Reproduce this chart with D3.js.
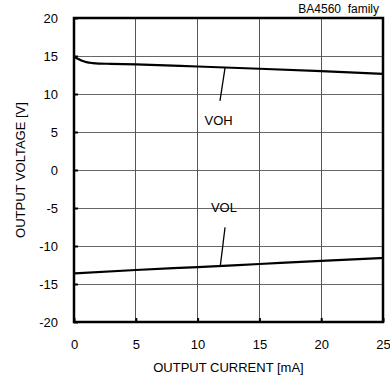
<!DOCTYPE html>
<html><head><meta charset="utf-8">
<script src="https://cdn.jsdelivr.net/npm/d3@7"></script>
<style>body{margin:0;background:#fff}svg{display:block;font-family:"Liberation Sans",Arial,sans-serif}</style>
</head><body><svg id="c" width="390" height="384"></svg>
<script>
const xTicks = [0, 5, 10, 15, 20, 25];
const yTicks = [-20, -15, -10, -5, 0, 5, 10, 15, 20];
const vohCurrent = [0, 0.3, 0.6, 1, 1.5, 2, 3, 5, 10, 15, 20, 25];
const vohVoltage = [14.9, 14.65, 14.4, 14.2, 14.07, 14.0, 13.97, 13.9, 13.62, 13.32, 13.0, 12.65];
const volCurrent = [0, 5, 10, 15, 20, 25];
const volVoltage = [-13.6, -13.16, -12.77, -12.37, -11.97, -11.58];
const labels = [
  {text: "VOH", x: 11.7, y: 5.9, lx1: 12.22, ly1: 13.45, lx2: 11.81, ly2: 9.1},
  {text: "VOL", x: 12.13, y: -5.5, lx1: 12.22, ly1: -7.55, lx2: 11.84, ly2: -12.6}
];
const svg = d3.select("#c");
const L = 74, R = 383, T = 18, B = 322;
const x = d3.scaleLinear().domain([0, 25]).range([L, R]);
const y = d3.scaleLinear().domain([-20, 20]).range([B, T]);
// grid
svg.append("g").selectAll("line").data(yTicks).join("line")
  .attr("x1", L).attr("x2", R).attr("y1", d => y(d)).attr("y2", d => y(d))
  .attr("stroke", "#666").attr("stroke-width", 1).attr("shape-rendering", "crispEdges");
svg.append("g").selectAll("line").data(xTicks).join("line")
  .attr("y1", T).attr("y2", B).attr("x1", d => x(d)).attr("x2", d => x(d))
  .attr("stroke", "#555").attr("stroke-width", 1).attr("shape-rendering", "crispEdges");
// axes with inward ticks
const fmt = d => String(d);
const ax = svg.append("g").attr("transform", `translate(0,${B})`)
  .call(d3.axisBottom(x).tickValues(xTicks).tickFormat(fmt).tickSize(-4).tickPadding(18));
const ay = svg.append("g").attr("transform", `translate(${L},0)`)
  .call(d3.axisLeft(y).tickValues(yTicks).tickFormat(fmt).tickSize(-4).tickPadding(16));
[ax, ay].forEach(g => {
  g.select(".domain").remove();
  g.selectAll(".tick line").attr("stroke", "#000").attr("stroke-width", 2);
  g.selectAll("text").attr("font-size", 13).attr("fill", "#000").attr("font-family", "Liberation Sans, Arial, sans-serif");
});
// border
svg.append("rect").attr("x", L).attr("y", T).attr("width", R - L).attr("height", B - T)
  .attr("fill", "none").attr("stroke", "#000").attr("stroke-width", 2.5);
// curves
const line = d3.line().x(d => x(d[0])).y(d => y(d[1])).curve(d3.curveMonotoneX);
svg.append("path").datum(vohCurrent.map((c, i) => [c, vohVoltage[i]])).attr("d", line)
  .attr("fill", "none").attr("stroke", "#000").attr("stroke-width", 2.2);
svg.append("path").datum(volCurrent.map((c, i) => [c, volVoltage[i]])).attr("d", line)
  .attr("fill", "none").attr("stroke", "#000").attr("stroke-width", 2.2);
// labels
labels.forEach(l => {
  svg.append("line").attr("x1", x(l.lx1)).attr("y1", y(l.ly1)).attr("x2", x(l.lx2)).attr("y2", y(l.ly2))
    .attr("stroke", "#000").attr("stroke-width", 1.3);
  svg.append("text").attr("x", x(l.x)).attr("y", y(l.y)).attr("text-anchor", "middle")
    .attr("font-size", 13).text(l.text);
});
// titles
svg.append("text").attr("x", (L + R) / 2).attr("y", 372).attr("text-anchor", "middle")
  .attr("font-size", 13).text("OUTPUT CURRENT [mA]");
svg.append("text").attr("transform", `translate(25,${(T + B) / 2}) rotate(-90)`).attr("text-anchor", "middle")
  .attr("font-size", 13).text("OUTPUT VOLTAGE [V]");
svg.append("text").attr("x", 379).attr("y", 13).attr("text-anchor", "end")
  .attr("font-size", 12).attr("xml:space", "preserve").style("white-space", "pre").text("BA4560  family");
</script></body></html>
